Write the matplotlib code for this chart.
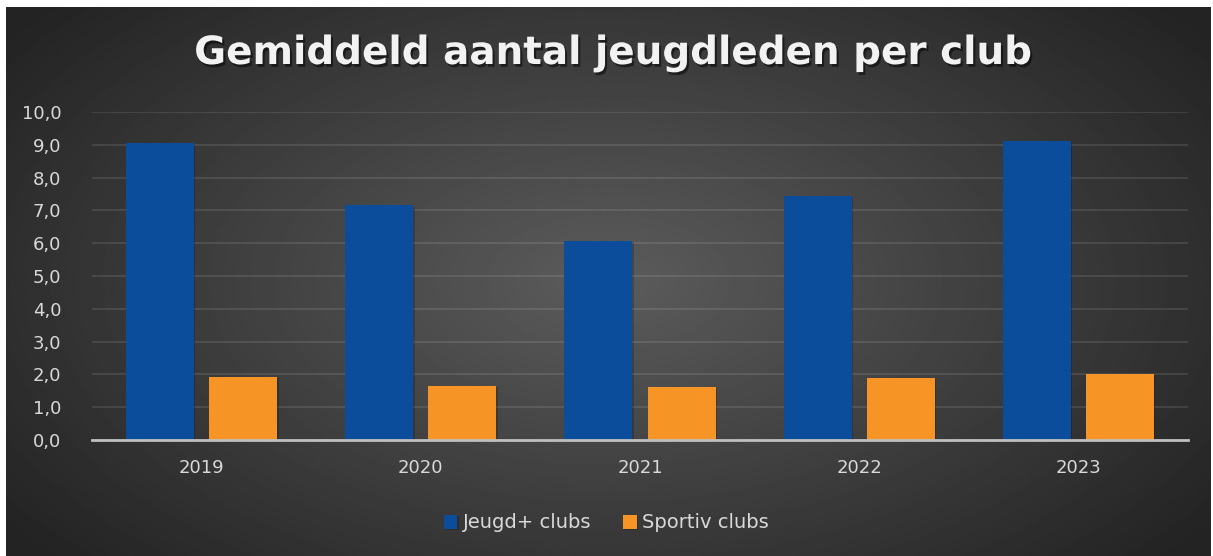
import numpy as np
import matplotlib
matplotlib.use("Agg")
import matplotlib.pyplot as plt
import matplotlib.patheffects as pe
from matplotlib.ticker import FuncFormatter

# data
years = ["2019", "2020", "2021", "2022", "2023"]
jeugd_plus = [9.05, 7.16, 6.08, 7.44, 9.12]
sportiv = [1.92, 1.66, 1.61, 1.89, 2.00]
series_names = ["Jeugd+ clubs", "Sportiv clubs"]

blue = "#0B4C9B"
orange = "#F79426"
text_col = "#D9D9D9"

fig = plt.figure(figsize=(12.13, 5.56), dpi=100)
fig.patch.set_facecolor("white")

# radial gradient background
bg = fig.add_axes([6 / 1213, 0, 1205 / 1213, 549 / 556])
bg.set_axis_off()
yy, xx = np.mgrid[0:1:300j, 0:1:600j]
r = np.sqrt(((xx - 0.5) / 0.62) ** 2 + ((yy - 0.5) / 0.75) ** 2)
shade = np.clip(0.36 - 0.22 * r, 0.14, 0.36)
bg.imshow(shade, cmap="gray", vmin=0, vmax=1, aspect="auto", extent=[0, 1, 0, 1])

ax = fig.add_axes([92 / 1213, 1 - 440 / 556, 1096 / 1213, 328 / 556])
ax.patch.set_alpha(0)

x = np.arange(len(years))
w = 0.31
off = 0.19
shadow = [pe.SimplePatchShadow(offset=(1, -1), shadow_rgbFace="black", alpha=0.2), pe.Normal()]
b1 = ax.bar(x - off, jeugd_plus, w, color=blue, label=series_names[0], zorder=3)
b2 = ax.bar(x + off, sportiv, w, color=orange, label=series_names[1], zorder=3)
for b in list(b1) + list(b2):
    b.set_path_effects(shadow)

ax.set_xlim(-0.5, len(years) - 0.5)
ax.set_ylim(0, 10)
ax.set_yticks(np.arange(0, 11, 1))
ax.yaxis.set_major_formatter(FuncFormatter(lambda v, p: f"{v:.1f}".replace(".", ",")))
ax.set_xticks(x)
ax.set_xticklabels(years)
ax.tick_params(axis="both", length=0, colors=text_col, labelsize=13)
ax.tick_params(axis="x", pad=14)
ax.tick_params(axis="y", pad=22)
ax.grid(axis="y", color="white", alpha=0.1, linewidth=1.5, zorder=0)
for s in ["top", "right", "left"]:
    ax.spines[s].set_visible(False)
ax.spines["bottom"].set_color("#BFBFBF")
ax.spines["bottom"].set_linewidth(2)
ax.spines["bottom"].set_zorder(4)

fig.text(0.505, 1 - 53 / 556, "Gemiddeld aantal jeugdleden per club", ha="center", va="center",
         fontsize=28, fontweight="bold", color="#F2F2F2",
         path_effects=[pe.withSimplePatchShadow(offset=(1.5, -2), shadow_rgbFace="black", alpha=0.5)])

leg = fig.legend(handles=[b1, b2], loc="center", bbox_to_anchor=(0.5, 1 - 523 / 556), ncol=2,
                 frameon=False, fontsize=14, handlelength=0.7, handleheight=0.7,
                 handletextpad=0.3, columnspacing=1.6, labelcolor=text_col)

fig.savefig("out.png", dpi=100, facecolor=fig.get_facecolor())
